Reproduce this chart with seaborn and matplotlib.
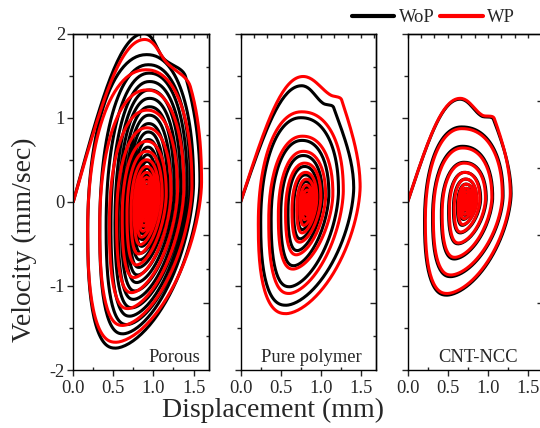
import numpy as np
import pandas as pd
import matplotlib.pyplot as plt
import seaborn as sns
from matplotlib.lines import Line2D
from matplotlib.ticker import FixedLocator

# Turning points of each phase-plane spiral
# (velocity peaks / troughs and displacement extremes, one entry per cycle)
porous_wop_vmax = [2.00, 1.75, 1.63, 1.53, 1.43, 1.33, 1.23, 1.13, 1.03, 0.93, 0.83, 0.74, 0.65, 0.56, 0.48, 0.40, 0.33, 0.26, 0.20, 0.14, 0.09]
porous_wop_vmin = [-1.74, -1.57, -1.46, -1.36, -1.26, -1.16, -1.06, -0.96, -0.87, -0.78, -0.69, -0.61, -0.53, -0.45, -0.38, -0.31, -0.25, -0.19, -0.14, -0.09, -0.05]
porous_wop_xmax = [1.58, 1.50, 1.46, 1.42, 1.38, 1.34, 1.30, 1.26, 1.22, 1.18, 1.14, 1.11, 1.08, 1.05, 1.02, 1.00, 0.98, 0.96, 0.95, 0.93, 0.92]
porous_wop_xmin = [0.18, 0.33, 0.41, 0.47, 0.52, 0.56, 0.60, 0.64, 0.67, 0.70, 0.73, 0.76, 0.78, 0.80, 0.82, 0.84, 0.85, 0.86, 0.87, 0.88, 0.89]
porous_wop_shoulder = [(1.13, 1.70), (1.40, 1.49)]

porous_wp_vmax = [1.93, 1.57, 1.33, 1.09, 0.88, 0.72, 0.60, 0.50, 0.42, 0.35, 0.29, 0.24, 0.19, 0.15, 0.11, 0.08, 0.05]
porous_wp_vmin = [-1.67, -1.47, -1.27, -1.08, -0.90, -0.75, -0.62, -0.51, -0.42, -0.35, -0.29, -0.23, -0.18, -0.14, -0.10, -0.07, -0.04]
porous_wp_xmax = [1.60, 1.48, 1.38, 1.30, 1.22, 1.16, 1.11, 1.07, 1.04, 1.01, 0.99, 0.97, 0.95, 0.94, 0.93, 0.92, 0.91]
porous_wp_xmin = [0.18, 0.33, 0.45, 0.54, 0.61, 0.67, 0.72, 0.76, 0.79, 0.82, 0.84, 0.86, 0.87, 0.88, 0.89, 0.90, 0.90]
porous_wp_shoulder = [(1.17, 1.65), (1.46, 1.37)]

pure_wop_vmax = [1.38, 1.00, 0.73, 0.55, 0.42, 0.32, 0.24, 0.17, 0.12, 0.08, 0.05]
pure_wop_vmin = [-1.23, -1.01, -0.76, -0.58, -0.44, -0.33, -0.25, -0.18, -0.12, -0.08, -0.05]
pure_wop_xmax = [1.41, 1.22, 1.10, 1.02, 0.97, 0.93, 0.90, 0.88, 0.87, 0.86, 0.85]
pure_wop_xmin = [0.25, 0.38, 0.50, 0.59, 0.66, 0.71, 0.75, 0.78, 0.80, 0.82, 0.83]
pure_wop_shoulder = [(1.03, 1.17), (1.16, 1.12)]

pure_wp_vmax = [1.49, 1.07, 0.78, 0.60, 0.46, 0.35, 0.27, 0.20, 0.14, 0.09, 0.05]
pure_wp_vmin = [-1.33, -1.09, -0.80, -0.63, -0.48, -0.37, -0.28, -0.21, -0.15, -0.10, -0.06]
pure_wp_xmax = [1.49, 1.28, 1.15, 1.06, 1.00, 0.95, 0.92, 0.89, 0.87, 0.86, 0.85]
pure_wp_xmin = [0.22, 0.35, 0.47, 0.56, 0.64, 0.70, 0.74, 0.77, 0.80, 0.82, 0.83]
pure_wp_shoulder = [(1.12, 1.27), (1.26, 1.21)]

cnt_wop_vmax = [1.22, 0.89, 0.66, 0.47, 0.35, 0.27, 0.21, 0.16, 0.12, 0.08, 0.05]
cnt_wop_vmin = [-1.11, -0.89, -0.68, -0.50, -0.37, -0.28, -0.21, -0.16, -0.11, -0.07, -0.04]
cnt_wop_xmax = [1.29, 1.19, 1.06, 0.98, 0.91, 0.86, 0.83, 0.80, 0.78, 0.77, 0.76]
cnt_wop_xmin = [0.21, 0.31, 0.42, 0.51, 0.57, 0.62, 0.65, 0.68, 0.70, 0.72, 0.73]
cnt_wop_shoulder = [(0.92, 1.02), (1.07, 0.98)]

cnt_wp_vmax = [1.23, 0.87, 0.64, 0.46, 0.35, 0.27, 0.21, 0.16, 0.12, 0.08, 0.05]
cnt_wp_vmin = [-1.09, -0.87, -0.66, -0.49, -0.36, -0.27, -0.20, -0.15, -0.10, -0.07, -0.04]
cnt_wp_xmax = [1.28, 1.18, 1.05, 0.97, 0.90, 0.86, 0.83, 0.80, 0.78, 0.77, 0.76]
cnt_wp_xmin = [0.22, 0.32, 0.43, 0.52, 0.58, 0.63, 0.66, 0.68, 0.70, 0.72, 0.73]
cnt_wp_shoulder = [(0.93, 1.03), (1.08, 0.99)]

panel_names = ['Porous', 'Pure polymer', 'CNT-NCC']
series_names = ['WoP', 'WP']

# loop shape per panel: x-offset of top / bottom (fraction of half width),
# velocity at right / left turning point (fraction of peak)
shape = {
    'Porous': dict(tx=0.0, bx=-0.5, rv=0.12, lv=-0.2),
    'Pure polymer': dict(tx=-0.12, bx=-0.45, rv=0.12, lv=-0.2),
    'CNT-NCC': dict(tx=-0.18, bx=-0.48, rv=0.08, lv=-0.2),
}
q_arc = [0.9, 1.2, 0.8, 0.95]  # top->right, right->bottom, bottom->left, left->top


def arc(A, B, from_vext, q, n=30):
    phi = np.linspace(0, np.pi / 2, n)
    s = np.sin(phi) ** q
    c = np.abs(np.cos(phi)) ** q
    if from_vext:
        x = A[0] + (B[0] - A[0]) * s
        v = B[1] + (A[1] - B[1]) * c
    else:
        x = B[0] + (A[0] - B[0]) * c
        v = A[1] + (B[1] - A[1]) * s
    return x, v


def smooth_path(pts, d_start, d_end, n=25):
    # piecewise cubic bezier through pts, handles a third of each chord long
    pts = np.asarray(pts, float)
    dirs = [np.asarray(d_start, float)]
    for i in range(1, len(pts) - 1):
        d = pts[i + 1] - pts[i - 1]
        dirs.append(d / np.hypot(*d))
    dirs.append(np.asarray(d_end, float))
    t = np.linspace(0, 1, n)[:, None]
    out = [pts[:1]]
    for i in range(len(pts) - 1):
        L = np.hypot(*(pts[i + 1] - pts[i]))
        c1 = pts[i] + dirs[i] * L / 3
        c2 = pts[i + 1] - dirs[i + 1] * L / 3
        seg = (1 - t)**3 * pts[i] + 3 * (1 - t)**2 * t * c1 + 3 * (1 - t) * t**2 * c2 + t**3 * pts[i + 1]
        out.append(seg[1:])
    p = np.vstack(out)
    return p[:, 0], p[:, 1]


def spiral(vmax, vmin, xmax, xmin, shoulder, tx, bx, rv, lv):
    nodes = []
    for k in range(len(vmax)):
        c = (xmax[k] + xmin[k]) / 2
        a = (xmax[k] - xmin[k]) / 2
        nodes.append((c + tx * a, vmax[k]))
        nodes.append((xmax[k], rv * vmax[k]))
        nodes.append((c + bx * a, vmin[k]))
        nodes.append((xmin[k], lv * abs(vmin[k])))
    # start-up branch from the origin to the first peak (cubic bezier)
    t = np.linspace(0, 1, 40)
    top = np.array(nodes[0])
    c2 = np.array([0.65 * top[0], top[1]])
    c1 = 0.6 * c2
    p = (3 * (1 - t) ** 2 * t)[:, None] * c1 \
        + (3 * (1 - t) * t ** 2)[:, None] * c2 + (t ** 3)[:, None] * top
    xs, vs = [p[:, 0]], [p[:, 1]]
    # first descent with its shoulder
    right = np.array(nodes[1])
    x, v = smooth_path([top, shoulder[0], shoulder[1], right], (1, 0), (0, -1))
    xs.append(x[1:])
    vs.append(v[1:])
    for i in range(1, len(nodes) - 1):
        x, v = arc(nodes[i], nodes[i + 1], i % 2 == 0, q_arc[i % 4])
        xs.append(x[1:])
        vs.append(v[1:])
    return np.concatenate(xs), np.concatenate(vs)


curves = {
    ('Porous', 'WoP'): (porous_wop_vmax, porous_wop_vmin, porous_wop_xmax, porous_wop_xmin, porous_wop_shoulder),
    ('Porous', 'WP'): (porous_wp_vmax, porous_wp_vmin, porous_wp_xmax, porous_wp_xmin, porous_wp_shoulder),
    ('Pure polymer', 'WoP'): (pure_wop_vmax, pure_wop_vmin, pure_wop_xmax, pure_wop_xmin, pure_wop_shoulder),
    ('Pure polymer', 'WP'): (pure_wp_vmax, pure_wp_vmin, pure_wp_xmax, pure_wp_xmin, pure_wp_shoulder),
    ('CNT-NCC', 'WoP'): (cnt_wop_vmax, cnt_wop_vmin, cnt_wop_xmax, cnt_wop_xmin, cnt_wop_shoulder),
    ('CNT-NCC', 'WP'): (cnt_wp_vmax, cnt_wp_vmin, cnt_wp_xmax, cnt_wp_xmin, cnt_wp_shoulder),
}

frames = []
for (panel, ser), arrs in curves.items():
    x, v = spiral(*arrs, **shape[panel])
    frames.append(pd.DataFrame({'panel': panel, 'series': ser, 'x': x, 'v': v}))
df = pd.concat(frames, ignore_index=True)

sns.set_style('ticks')
plt.rcParams['font.family'] = ['Liberation Serif', 'DejaVu Serif']
plt.rcParams['axes.unicode_minus'] = False
plt.rcParams['axes.linewidth'] = 1.0

fig = plt.figure(figsize=(5.4, 4.28), dpi=100)
lefts = [0.1357, 0.4457, 0.755]
label_x = [0.94, 0.89, 0.81]
palette = {'WoP': '#000000', 'WP': '#ff0000'}

for i, panel in enumerate(panel_names):
    ax = fig.add_axes([lefts[i], 0.1355, 0.2509, 0.786])
    sub = df[df['panel'] == panel]
    sns.lineplot(data=sub, x='x', y='v', hue='series', hue_order=series_names,
                 palette=palette, sort=False, estimator=None, lw=2.2,
                 legend=False, ax=ax)
    ax.set_xlim(0, 1.69)
    ax.set_ylim(-2, 2)
    ax.set_xlabel('')
    ax.set_ylabel('')
    ax.set_xticks([0, 0.5, 1.0, 1.5])
    ax.set_xticklabels(['0.0', '0.5', '1.0', '1.5'], fontsize=13.3)
    ax.xaxis.set_minor_locator(FixedLocator([0.25, 0.75, 1.25]))
    ax.set_yticks([-2, -1, 0, 1, 2])
    ax.yaxis.set_minor_locator(FixedLocator([-1.5, -0.5, 0.5, 1.5]))
    if i == 0:
        ax.set_yticklabels(['-2', '-1', '0', '1', '2'], fontsize=13.3)
    else:
        ax.set_yticklabels([])
    ax.tick_params(axis='x', which='major', direction='out', length=4, width=1, pad=3, top=False)
    ax.tick_params(axis='x', which='minor', direction='in', length=2.5, width=1, top=False)
    ax.tick_params(axis='y', which='major', direction='out', length=4, width=1, pad=2, right=False)
    ax.tick_params(axis='y', which='minor', direction='out', length=3, width=1, right=False)
    for sp in ax.spines.values():
        sp.set_visible(True)
        sp.set_color('black')

    secx = ax.secondary_xaxis('top')
    secx.set_xticks(np.arange(11) / 6)
    secx.set_xticklabels([])
    secx.tick_params(direction='in', length=3, width=1)
    secy = ax.secondary_yaxis('right')
    secy.set_yticks([-1.2, -0.4, 0.4, 1.2])
    secy.set_yticklabels([])
    secy.yaxis.set_minor_locator(FixedLocator([-1.6, -0.8, 0, 0.8, 1.6]))
    secy.tick_params(which='major', direction='in', length=4, width=1)
    secy.tick_params(which='minor', direction='in', length=2.5, width=1)

    ax.text(label_x[i], 0.025, panel, transform=ax.transAxes, ha='right',
            va='baseline', fontsize=13.3)

fig.text(0.046, 0.44, 'Velocity (mm/sec)', rotation=90, ha='center', va='center', fontsize=20)
fig.text(0.506, 0.042, 'Displacement (mm)', ha='center', va='center', fontsize=20)

handles = [Line2D([], [], color='#000000', lw=3), Line2D([], [], color='#ff0000', lw=3)]
fig.legend(handles=handles, labels=series_names, ncol=2, frameon=False, loc='center',
           bbox_to_anchor=(0.803, 0.958), handlelength=2.3, handletextpad=0.25,
           columnspacing=0.3, fontsize=13.3, borderpad=0, borderaxespad=0)

fig.savefig('out.png', dpi=100)
